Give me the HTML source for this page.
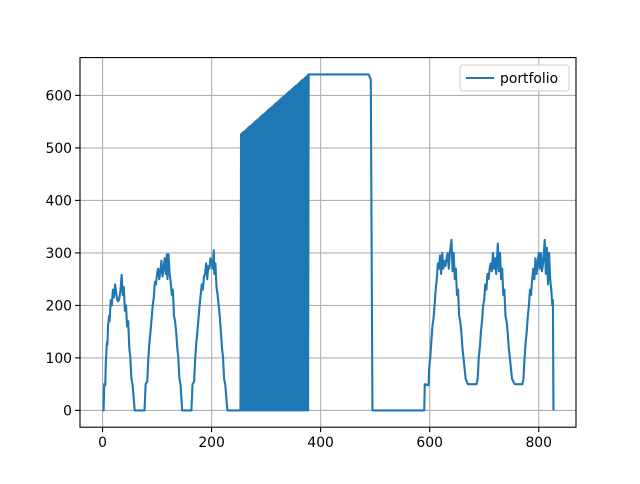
<!DOCTYPE html>
<html><head><meta charset="utf-8"><style>
body{margin:0;background:#fff;font-family:"DejaVu Sans","Liberation Sans",sans-serif}
</style></head><body>
<svg width="640" height="480" id="c" xmlns="http://www.w3.org/2000/svg"></svg>
<script>
const xTicks=[0,200,400,600,800];
const yTicks=[0,100,200,300,400,500,600];
const seriesName="portfolio";
const bumpsLeft=[[0,0],[2,0],[3,50],[5,48],[6,90],[8,130],[9,125],[10,160],[12,180],[13,170],[15,210],[17,200],[19,230],[21,215],[23,240],[25,225],[27,210],[29,208],[31,215],[33,230],[35,258],[37,220],[39,235],[41,190],[43,200],[45,160],[47,170],[49,120],[51,100],[53,60],[55,50],[59,0],
[77,0],[79,50],[82,55],[84,100],[86,130],[88,150],[90,175],[92,200],[94,215],[96,245],[98,240],[100,260],[102,270],[104,250],[106,265],[108,285],[110,255],[112,270],[114,290],[116,260],[118,297],[119,250],[121,297],[123,260],[125,245],[127,220],[129,230],[131,180],[133,170],[135,150],[137,120],[139,100],[141,60],[143,50],[146,0],
[163,0],[165,50],[168,55],[170,100],[172,130],[174,150],[176,175],[178,200],[180,220],[182,240],[184,230],[186,255],[188,260],[190,280],[192,250],[194,275],[196,270],[198,290],[200,280],[202,270],[204,305],[205,260],[207,280],[209,235],[211,220],[213,200],[215,180],[217,150],[219,120],[221,100],[223,60],[225,50],[229,0],[253,0]];
const denseTops=[526,528,530,531,533,535,537,539,541,542,544,546,548,550,552,553,555,557,559,561,563,564,566,568,570,572,574,575,577,579,581,583,585,586,588,590,592,594,596,597,599,601,603,605,607,608,610,612,614,616,618,619,621,623,625,627,629,630,632,634,636,638,640];
const bumpsRight=[[378,640],[488,640],[492,630],[495,0],[590,0],[591,50],[598,48],[599,80],[601,100],[603,130],[605,160],[607,175],[609,200],[611,230],[613,250],[615,280],[617,270],[619,295],[621,260],[623,300],[625,270],[627,285],[629,275],[631,290],[633,300],[635,270],[637,300],[640,325],[642,265],[644,300],[646,250],[648,270],[650,220],[652,230],[654,180],[656,170],[658,150],[660,120],[662,100],[664,80],[666,60],[670,50],
[686,50],[688,60],[690,100],[692,120],[694,150],[696,170],[698,200],[700,210],[702,240],[704,230],[706,260],[708,250],[710,270],[712,280],[714,265],[716,300],[718,270],[720,290],[722,260],[725,318],[727,265],[729,300],[731,250],[733,270],[735,220],[737,230],[739,180],[741,170],[743,150],[745,120],[747,100],[749,80],[751,60],[756,50],
[770,50],[772,60],[774,100],[776,130],[778,150],[780,180],[782,200],[784,230],[786,220],[788,250],[790,270],[792,250],[794,290],[796,260],[798,280],[800,300],[802,270],[804,300],[806,265],[808,280],[811,325],[813,260],[815,310],[817,240],[819,300],[821,250],[823,230],[825,200],[826,210],[827,0]];
const L=80,R=576,T=57.6,B=427.2,xmin=-41.35,xmax=868.35,ymin=-32,ymax=672;
const sx=v=>L+(v-xmin)/(xmax-xmin)*(R-L);
const sy=v=>B-(v-ymin)/(ymax-ymin)*(B-T);
const svg=document.getElementById('c');const NS="http://www.w3.org/2000/svg";
function mk(t,a){const e=document.createElementNS(NS,t);for(const k in a)e.setAttribute(k,a[k]);svg.appendChild(e);return e;}
for(const t of xTicks){
 const g=mk('line',{x1:sx(t),x2:sx(t),y1:T,y2:B,stroke:'#b0b0b0','stroke-width':1.1});
 
 
 const k=mk('line',{x1:sx(t),x2:sx(t),y1:B,y2:B+4.9,stroke:'#000','stroke-width':1.1});
 
 
 const tx=mk('text',{x:sx(t),y:B+20,'text-anchor':'middle','font-size':13.9,fill:'#000'});tx.textContent=t;
 
 
}
for(const t of yTicks){
 const g=mk('line',{x1:L,x2:R,y1:sy(t),y2:sy(t),stroke:'#b0b0b0','stroke-width':1.1});
 
 
 const k=mk('line',{x1:L-4.9,x2:L,y1:sy(t),y2:sy(t),stroke:'#000','stroke-width':1.1});
 
 
 const tx=mk('text',{x:L-8,y:sy(t)+5,'text-anchor':'end','font-size':13.9,fill:'#000'});tx.textContent=t;
 
 
}
let pts=[];
for(const p of bumpsLeft)pts.push(p);
for(let i=0;i<denseTops.length;i++){const x=254+2*i;pts.push([x,denseTops[i]]);if(i<denseTops.length-1)pts.push([x+1,0]);}
for(const p of bumpsRight)pts.push(p);
const line=mk('polyline',{points:pts.map(p=>sx(p[0]).toFixed(2)+','+sy(p[1]).toFixed(2)).join(' '),fill:'none',stroke:'#1f77b4','stroke-width':2.1,'stroke-linejoin':'round'});


const fr=mk('rect',{x:L,y:T,width:R-L,height:B-T,fill:'none',stroke:'#000','stroke-width':1.1});


const lg=mk('rect',{x:460,y:65,width:109,height:26,rx:3,fill:'#fff','fill-opacity':0.8,stroke:'#ccc','stroke-width':1});


const ll=mk('line',{x1:466,x2:494,y1:78,y2:78,stroke:'#1f77b4','stroke-width':2.1});


const lt=mk('text',{x:500,y:83,'font-size':13.9,fill:'#000'});lt.textContent=seriesName;


</script>
</body></html>
